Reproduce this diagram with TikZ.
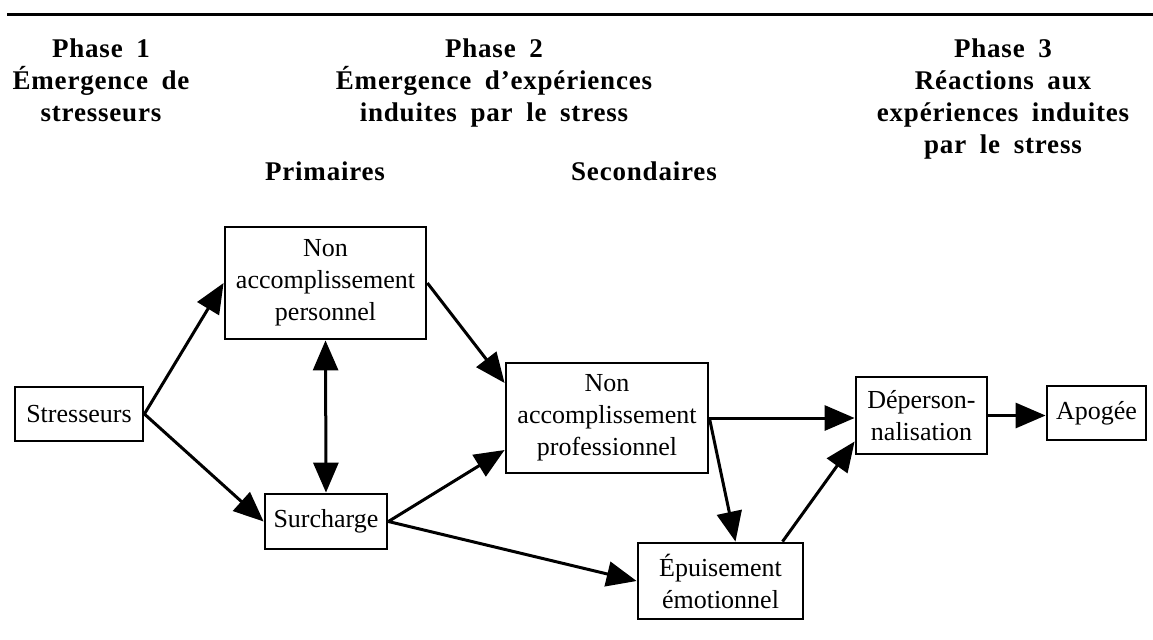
\documentclass[tikz,border=0pt]{standalone}
\usepackage{fontspec}
\setmainfont{Liberation Serif}
\newfontfamily\phasefont{Liberation Serif}[LetterSpace=3,WordSpace=1.8]
\usetikzlibrary{arrows.meta}

\begin{document}
\begin{tikzpicture}[x=0.5pt,y=-0.5pt,
  boite/.style={draw,line width=1.4pt,align=center,inner sep=0pt,font=\fontsize{13}{16}\selectfont},
  titre/.style={anchor=base,inner sep=0pt,font=\phasefont\bfseries\fontsize{13.5}{16}\selectfont},
  fleche/.style={line width=1.5pt,>={Triangle[length=15pt,width=12.5pt]},->}]

\useasboundingbox (0,0) rectangle (1153,639);
\draw[line width=1.5pt] (7,14) -- (1153,14);

% en-tetes des phases
\node[titre] (phase1) at (101,57) {\begin{tabular}[t]{@{}c@{}}Phase 1\\ Émergence de\\ stresseurs\end{tabular}};
\node[titre] (phase2) at (494,57) {\begin{tabular}[t]{@{}c@{}}Phase 2\\ Émergence d’expériences\\ induites par le stress\end{tabular}};
\node[titre] (phase3) at (1003,57) {\begin{tabular}[t]{@{}c@{}}Phase 3\\ Réactions aux\\ expériences induites\\ par le stress\end{tabular}};
\node[titre] (primaires) at (325,180) {Primaires};
\node[titre] (secondaires) at (644,180) {Secondaires};

\node[boite,minimum width=64pt,minimum height=27pt] (stress) at (79,414) {Stresseurs};
\node[boite,minimum width=100.5pt,minimum height=56pt] (perso) at (325.5,283) {Non\\ accomplissement\\ personnel};
\node[boite,minimum width=61pt,minimum height=27.5pt] (surch) at (326,521.5) {Surcharge};
\node[boite,minimum width=101pt,minimum height=55pt] (prof) at (607,418) {Non\\ accomplissement\\ professionnel};
\node[boite,minimum width=65.5pt,minimum height=38.5pt] (deperso) at (921.5,415.5) {Déperson-\\ nalisation};
\node[boite,minimum width=49.5pt,minimum height=27pt] (apogee) at (1096.5,413) {Apogée};
\node[boite,minimum width=82.5pt,minimum height=38pt] (epuis) at (720.5,581) {Épuisement\\ émotionnel};

\draw[fleche] (stress.east) -- (perso.west);
\draw[fleche] (stress.east) -- (surch.west);
\draw[fleche,<->] (perso.south) -- (surch.north);
\draw[fleche] (perso.east) -- ([yshift=17.5pt]prof.west);
\draw[fleche] (surch.east) -- ([yshift=-16pt]prof.west);
\draw[fleche] (surch.east) -- (epuis.west);
\draw[fleche] (prof.east) -- (prof.east -| deperso.west);
\draw[fleche] (prof.east) -- ([xshift=7.5pt]epuis.north);
\draw[fleche] ([xshift=31pt]epuis.north) -- ([yshift=-13pt]deperso.west);
\draw[fleche] (deperso.east) -- (deperso.east -| apogee.west);

\end{tikzpicture}
\end{document}
